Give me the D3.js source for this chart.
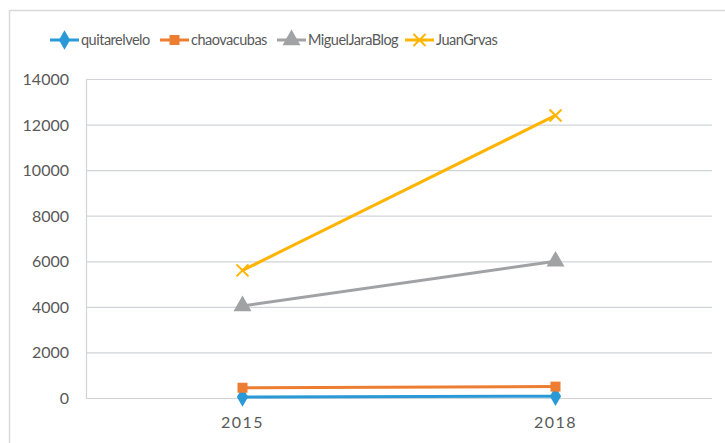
<!DOCTYPE html>
<html>
<head>
<meta charset="utf-8">
<script src="https://d3js.org/d3.v7.min.js"></script>
<style>
  body { margin: 0; background: #fff; }
  text { font-family: Lato, "Open Sans", sans-serif; fill: #595959; }
</style>
</head>
<body>
<script>
  // chart data
  var years = ["2015", "2018"];
  var seriesNames = ["quitarelvelo", "chaovacubas", "MiguelJaraBlog", "JuanGrvas"];
  var quitarelvelo = [40, 80];
  var chaovacubas = [450, 500];
  var miguelJaraBlog = [4040, 6000];
  var juanGrvas = [5600, 12400];
  var yTicks = [0, 2000, 4000, 6000, 8000, 10000, 12000, 14000];

  var colors = ["#2A9AD7", "#ED7D31", "#A0A2A4", "#FFB400"];
  var symbols = [d3.symbolDiamond, d3.symbolSquare, d3.symbolTriangle, d3.symbolTimes];
  var allValues = [quitarelvelo, chaovacubas, miguelJaraBlog, juanGrvas];

  var W = 725, H = 443;
  var margin = {left: 86, right: 13, top: 79, bottom: 45};

  var svg = d3.select("body").append("svg")
      .attr("width", W).attr("height", H);

  // outer frame
  svg.append("rect")
      .attr("x", 9.5).attr("y", 10.5)
      .attr("width", W + 10).attr("height", H + 10)
      .attr("fill", "none").attr("stroke", "#d9d9d9").attr("stroke-width", 1.5);

  var x = d3.scalePoint().domain(years)
      .range([margin.left, W - margin.right]).padding(0.5);
  var y = d3.scaleLinear().domain([0, 14000])
      .range([H - margin.bottom, margin.top]);

  // gridlines
  svg.append("g").selectAll("line").data(yTicks).enter().append("line")
      .attr("x1", margin.left).attr("x2", W - margin.right)
      .attr("y1", function (d) { return y(d) + 0.5; })
      .attr("y2", function (d) { return y(d) + 0.5; })
      .attr("stroke", "#d0d4d8").attr("stroke-width", 1.2);

  // y axis line
  svg.append("line")
      .attr("x1", margin.left + 0.5).attr("x2", margin.left + 0.5)
      .attr("y1", y(14000)).attr("y2", y(0))
      .attr("stroke", "#d0d4d8").attr("stroke-width", 1.2);

  // y labels
  svg.append("g").selectAll("text").data(yTicks).enter().append("text")
      .attr("x", 69).attr("y", function (d) { return y(d) + 6; })
      .attr("text-anchor", "end").style("font-size", "16px")
      .text(function (d) { return d; });

  // x labels
  svg.append("g").selectAll("text").data(years).enter().append("text")
      .attr("x", function (d) { return x(d); }).attr("y", 428)
      .attr("text-anchor", "middle").style("font-size", "16px")
      .style("letter-spacing", "1.5px")
      .text(function (d) { return d; });

  var line = d3.line()
      .x(function (d, i) { return x(years[i]); })
      .y(function (d) { return y(d); });

  allValues.forEach(function (vals, k) {
    svg.append("path").datum(vals)
        .attr("d", line)
        .attr("fill", "none").attr("stroke", colors[k]).attr("stroke-width", 3);
  });

  function marker(g, k, cx, cy) {
    var size = [110, 100, 140, 150][k];
    var p = g.append("path")
        .attr("d", d3.symbol().type(symbols[k]).size(size)())
        .attr("transform", "translate(" + cx + "," + cy + ")");
    if (k === 3) {
      p.attr("d", "M-6,-6L6,6M-6,6L6,-6")
          .attr("fill", "none").attr("stroke", colors[k]).attr("stroke-width", 2);
    } else {
      p.attr("fill", colors[k]);
    }
  }

  var markers = svg.append("g");
  allValues.forEach(function (vals, k) {
    vals.forEach(function (v, i) {
      marker(markers, k, x(years[i]), y(v));
    });
  });

  // legend
  var legend = svg.append("g");
  var legendX = [50, 160, 277, 405], ly = 40;
  seriesNames.forEach(function (name, k) {
    var lx = legendX[k];
    legend.append("line")
        .attr("x1", lx).attr("x2", lx + 29)
        .attr("y1", ly).attr("y2", ly)
        .attr("stroke", colors[k]).attr("stroke-width", 3);
    marker(legend, k, lx + 14.5, ly);
    legend.append("text")
        .attr("x", lx + 31).attr("y", ly + 5)
        .style("font-size", "14.5px")
        .style("letter-spacing", "-0.5px")
        .text(name);
  });
</script>
</body>
</html>
